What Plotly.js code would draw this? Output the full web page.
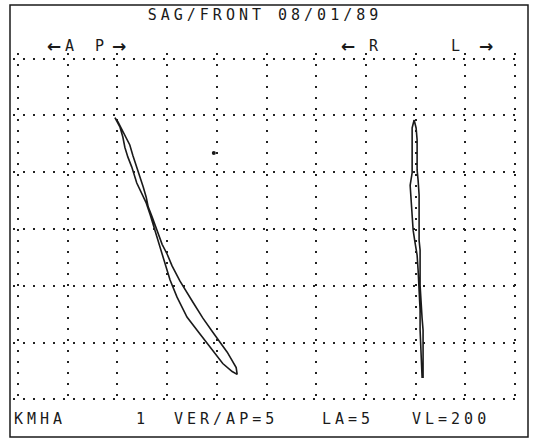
<!DOCTYPE html>
<html>
<head>
<meta charset="utf-8">
<script src="https://cdn.plot.ly/plotly-3.0.1.min.js"></script>
<style>
  html, body { margin: 0; padding: 0; background: #fff; }
  #chart { width: 535px; height: 440px; }
  .gtitle, .annotation-text { letter-spacing: 4px; }
</style>
</head>
<body>
<div id="chart"></div>
<script>
// Sagittal loop (grid units: 10 per major division)
const sagX = [19.5,20.5,21.1,21.5,22.1,22.9,23.9,24.9,25.8,26.6,27.4,28.2,29.0,29.8,30.6,32.0,34.0,36.0,38.6,41.2,43.1,44.1,
              43.9,42.1,39.2,37.2,35.2,32.6,31.0,30.0,29.0,28.0,27.0,26.2,25.8,25.2,24.5,23.9,23.1,22.5,21.5,20.1,19.5];
const sagY = [49.6,48.0,46.2,44.4,42.7,40.9,38.1,36.3,34.6,32.5,30.2,28.0,25.7,23.3,21.0,18.0,14.5,12.2,9.2,6.3,4.9,4.4,
              5.6,8.3,11.8,14.3,17.1,20.8,23.5,25.6,27.3,29.8,32.1,33.9,35.6,37.4,39.2,40.9,43.0,44.8,46.6,48.9,49.6];
// Frontal loop
const froX = [79.7,79.3,79.3,79.3,79.3,78.9,79.1,79.3,79.5,79.9,80.3,80.5,80.7,80.9,80.9,81.1,81.3,81.3,
              81.5,81.5,81.5,81.5,81.3,81.1,80.9,80.9,80.9,80.7,80.7,80.7,80.7,80.5,80.3,80.3,80.3,80.1,79.7];
const froY = [49.2,47.8,44.8,42.2,39.9,37.7,35.1,32.8,29.8,27.5,25.4,22.8,19.2,15.7,12.2,8.6,6.0,3.9,
              3.9,6.9,9.5,12.2,14.3,17.5,20.1,23.6,26.3,28.0,30.7,33.3,36.0,38.6,40.4,43.0,45.7,47.8,49.2];
// Stray dot
const dotX = [39.4];
const dotY = [43.4];

// Text
const titleText = "SAG/FRONT 08/01/89";
const dirLabels = ["←","A","P","→","←","R","L","→"];
const footLabels = ["KMHA","1","VER/AP=5","LA=5","VL=200"];

// Layout positions (pixels in the 535x440 page)
const W = 535, H = 440;
const dirPosX = [56,71,101,121,350,375,457,488];
const dirPosY = 46;
const footPosX = [40,142,226,348,451];
const footPosY = 419;

const ink = "#1a1a1a";
const txtFont = {family: "DejaVu Sans Mono", size: 15, color: ink};
const arrowFont = {family: "DejaVu Sans", size: 17, color: ink, weight: "bold"};

const M = {l: 13, r: 15, t: 53, b: 35};
const pw = W - M.l - M.r, ph = H - M.t - M.b;
const toPX = px => (px - M.l) / pw;
const toPY = py => (H - M.b - py) / ph;

const annotations = [];
dirLabels.forEach((t, i) => annotations.push({
  text: t, xref: "paper", yref: "paper", showarrow: false,
  x: toPX(dirPosX[i]), y: toPY(dirPosY),
  font: (t === "←" || t === "→") ? arrowFont : txtFont,
  xanchor: "center", yanchor: "middle"
}));
footLabels.forEach((t, i) => annotations.push({
  text: t, xref: "paper", yref: "paper", showarrow: false,
  x: toPX(footPosX[i]), y: toPY(footPosY), font: txtFont,
  xanchor: "center", yanchor: "middle"
}));

const traces = [
  {x: sagX, y: sagY, mode: "lines", line: {color: ink, width: 1.6}, hoverinfo: "skip"},
  {x: froX, y: froY, mode: "lines", line: {color: ink, width: 1.6}, hoverinfo: "skip"},
  {x: dotX, y: dotY, mode: "markers", marker: {color: ink, size: 4}, hoverinfo: "skip"}
];

const layout = {
  width: W, height: H,
  margin: M,
  paper_bgcolor: "#fff", plot_bgcolor: "#fff",
  showlegend: false,
  title: {text: titleText, font: txtFont, xref: "container", yref: "container",
          x: 265 / W, y: 1 - 15 / H, xanchor: "center", yanchor: "middle"},
  xaxis: {range: [-1, 101], dtick: 10, tick0: 0, showgrid: true, gridcolor: "#222",
          gridwidth: 2, griddash: "2px,9px", zeroline: false, showline: false,
          showticklabels: false, ticks: "", fixedrange: true},
  yaxis: {range: [-1, 61], dtick: 10, tick0: 0, showgrid: true, gridcolor: "#222",
          gridwidth: 2, griddash: "2px,8px", zeroline: false, showline: false,
          showticklabels: false, ticks: "", fixedrange: true},
  annotations: annotations,
  shapes: [{type: "rect", xref: "paper", yref: "paper",
            x0: toPX(10), x1: toPX(528), y0: toPY(437), y1: toPY(5),
            line: {color: ink, width: 1.5}}]
};

Plotly.newPlot("chart", traces, layout, {staticPlot: true, displayModeBar: false});
</script>
</body>
</html>
